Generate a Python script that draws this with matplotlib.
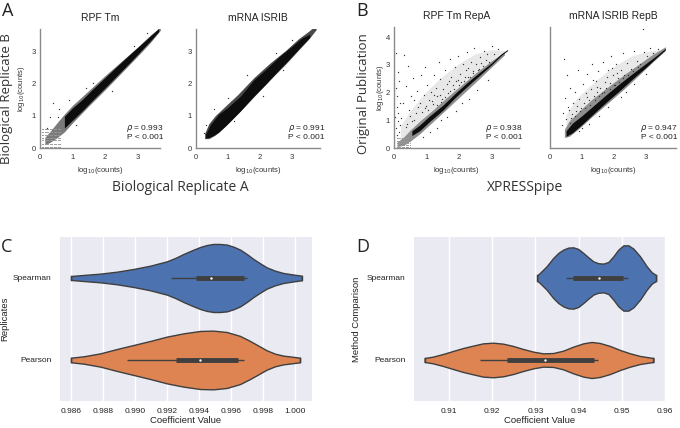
import numpy as np
import matplotlib
matplotlib.use("Agg")
import matplotlib.pyplot as plt

# ---------------- data ----------------
# scatter panels: dense diagonal band (x, lower edge, upper edge), sparse cloud and points
a1_halo_x = [0.15, 0.3, 0.5, 0.75, 1.0, 1.5, 2.0, 2.5, 3.0, 3.4, 3.7]
a1_halo_lo = [0.10, 0.17, 0.30, 0.50, 0.78, 1.30, 1.80, 2.32, 2.84, 3.27, 3.64]
a1_halo_hi = [0.33, 0.50, 0.75, 1.05, 1.32, 1.78, 2.24, 2.68, 3.12, 3.50, 3.74]
a1_core_x = [0.75, 1.0, 1.3, 1.6, 2.0, 2.4, 2.8, 3.1, 3.4, 3.65]
a1_core_lo = [0.62, 0.86, 1.15, 1.46, 1.86, 2.27, 2.68, 3.00, 3.32, 3.60]
a1_core_hi = [0.98, 1.24, 1.50, 1.80, 2.18, 2.56, 2.93, 3.20, 3.47, 3.70]
a1_pts_x = [0.4, 1.63, 0.9, 2.2, 0.3, 1.1, 2.9, 3.3, 1.4, 0.6, 0.22, 0.55]
a1_pts_y = [1.39, 2.0, 1.5, 1.75, 0.95, 0.7, 3.15, 3.55, 1.85, 1.2, 0.62, 0.95]
a1_rows = [0.03, 0.13, 0.24, 0.32, 0.40, 0.49, 0.58]
a1_cols = [0.06, 0.1, 0.14, 0.18, 0.22, 0.26, 0.3, 0.34, 0.38, 0.42, 0.46, 0.5, 0.54, 0.58, 0.62]

a2_halo_x = [0.27, 0.4, 0.6, 0.9, 1.3, 1.8, 2.3, 2.8, 3.2, 3.5, 3.75]
a2_halo_lo = [0.29, 0.29, 0.40, 0.66, 1.06, 1.58, 2.10, 2.60, 3.03, 3.35, 3.66]
a2_halo_hi = [0.45, 0.75, 1.00, 1.28, 1.65, 2.17, 2.62, 3.02, 3.38, 3.60, 3.80]
a2_core_x = [0.3, 0.45, 0.7, 1.0, 1.4, 1.8, 2.2, 2.6, 3.0, 3.3, 3.55]
a2_core_lo = [0.31, 0.34, 0.48, 0.76, 1.16, 1.60, 2.00, 2.43, 2.84, 3.17, 3.42]
a2_core_hi = [0.42, 0.72, 1.04, 1.26, 1.62, 2.10, 2.45, 2.83, 3.15, 3.40, 3.52]
a2_pts_x = [0.3, 0.55, 1.2, 2.1, 1.0, 1.6, 2.5, 3.0, 3.4, 3.6, 2.7, 0.25]
a2_pts_y = [0.7, 1.2, 0.85, 1.6, 1.55, 2.25, 2.95, 3.35, 3.7, 3.72, 2.4, 0.45]

b1_cloud_x = [0.2, 0.5, 1.0, 1.5, 2.0, 2.5, 3.0, 3.4]
b1_cloud_lo = [0.30, 0.62, 1.20, 1.70, 2.20, 2.72, 3.15, 3.45]
b1_cloud_hi = [0.80, 1.35, 2.05, 2.60, 3.05, 3.40, 3.55, 3.52]
b1_halo_x = [0.1, 0.3, 0.5, 0.8, 1.2, 1.6, 2.0, 2.5, 3.0, 3.4]
b1_halo_lo = [0.05, 0.10, 0.25, 0.52, 0.95, 1.38, 1.82, 2.36, 2.92, 3.36]
b1_halo_hi = [0.22, 0.40, 0.65, 0.98, 1.38, 1.80, 2.20, 2.70, 3.15, 3.46]
b1_core_x = [0.55, 0.8, 1.1, 1.5, 1.9, 2.3, 2.7, 3.0, 3.3, 3.5]
b1_core_lo = [0.45, 0.63, 0.96, 1.36, 1.84, 2.27, 2.69, 3.00, 3.34, 3.52]
b1_core_hi = [0.62, 0.84, 1.16, 1.54, 1.99, 2.41, 2.79, 3.07, 3.40, 3.56]
b1_pts_x = [0.07, 0.31, 0.42, 0.11, 0.15, 0.05, 0.09, 0.17, 0.08, 0.13, 0.04, 0.11, 0.18, 0.06, 0.14, 0.1,
            0.37, 0.52, 0.27, 0.47, 0.63, 0.58, 0.72, 0.83, 0.74, 0.92, 0.97, 1.03, 1.08, 1.13, 1.19, 1.22,
            1.29, 1.33, 1.38, 1.43, 1.49, 1.52, 1.58, 1.63, 1.67, 1.74, 1.77, 1.83, 1.88, 1.92, 1.98, 2.04,
            2.07, 2.13, 2.18, 2.24, 2.27, 2.33, 2.38, 2.43, 2.47, 2.53, 2.58, 2.64, 2.69, 2.77, 2.83, 2.88,
            3.02, 3.08, 3.21,
            0.61, 0.68, 0.87, 0.94, 1.06, 1.17, 1.31, 1.41, 1.56, 1.72, 1.84, 2.01, 2.16, 2.29, 2.44, 2.61,
            2.73, 2.92, 0.41, 0.49, 0.23, 0.36, 0.79, 1.24, 1.68, 2.21, 0.55, 0.99, 1.46, 1.96,
            0.88, 1.12, 1.33, 1.62, 1.91, 2.32, 2.57, 2.91, 2.08, 1.45]
b1_pts_y = [3.42, 3.35, 2.97, 2.74, 2.41, 2.15, 1.88, 1.62, 1.47, 1.27, 1.13, 0.97, 0.83, 0.72, 0.57, 0.46,
            2.23, 1.87, 1.63, 1.38, 1.73, 2.52, 2.06, 2.63, 1.47, 1.93, 2.93, 2.27, 1.72, 2.04, 1.58, 2.62,
            2.17, 1.88, 3.12, 2.48, 1.78, 2.13, 2.83, 2.31, 1.98, 3.23, 2.58, 2.28, 2.94, 2.42, 3.33, 2.67,
            2.38, 3.04, 2.57, 3.47, 2.88, 2.58, 3.12, 2.77, 3.62, 3.02, 2.83, 3.28, 3.07, 3.52, 3.18, 3.41,
            3.67, 3.38, 3.57,
            1.02, 1.27, 1.31, 1.44, 1.37, 1.68, 1.57, 1.91, 1.83, 2.07, 2.12, 2.28, 2.43, 2.58, 2.72, 2.87,
            2.96, 3.12, 0.88, 1.17, 1.08, 0.76, 1.62, 1.93, 2.42, 2.81, 0.97, 1.52, 1.66, 2.47,
            0.41, 0.57, 0.73, 1.12, 1.33, 1.77, 2.08, 2.46, 1.62, 1.02]
b1_rows = [0.04, 0.11, 0.19, 0.27, 0.35]
b1_cols = [0.08, 0.12, 0.16, 0.2, 0.24, 0.28, 0.32, 0.36, 0.4, 0.44, 0.48]

b2_cloud_x = [0.5, 0.8, 1.2, 1.6, 2.0, 2.5, 3.0, 3.4]
b2_cloud_lo = [0.68, 1.02, 1.45, 1.88, 2.26, 2.72, 3.12, 3.45]
b2_cloud_hi = [1.20, 1.75, 2.20, 2.60, 2.95, 3.30, 3.48, 3.55]
b2_halo_x = [0.45, 0.6, 0.9, 1.3, 1.8, 2.3, 2.8, 3.2, 3.6]
b2_halo_lo = [0.38, 0.42, 0.70, 1.12, 1.62, 2.12, 2.66, 3.10, 3.52]
b2_halo_hi = [0.68, 0.98, 1.32, 1.75, 2.20, 2.64, 3.05, 3.38, 3.66]
b2_core_x = [0.5, 0.7, 1.0, 1.4, 1.8, 2.2, 2.6, 3.0, 3.3, 3.6]
b2_core_lo = [0.42, 0.55, 0.85, 1.28, 1.70, 2.10, 2.52, 2.92, 3.24, 3.55]
b2_core_hi = [0.62, 0.90, 1.17, 1.57, 1.97, 2.35, 2.71, 3.06, 3.32, 3.60]
b2_pts_x = [0.44, 2.9, 0.52, 0.61, 0.46, 0.56, 0.41, 0.51, 0.63, 0.36, 0.71, 0.77, 0.82, 0.86, 0.91, 0.96,
            1.02, 1.06, 1.12, 1.17, 1.21, 1.27, 1.31, 1.36, 1.42, 1.46, 1.51, 1.57, 1.62, 1.66, 1.72, 1.76,
            1.82, 1.87, 1.91, 1.97, 2.02, 2.06, 2.12, 2.21, 2.27, 2.32, 2.41, 2.52, 2.61, 2.72, 2.81, 2.92,
            3.02, 3.11, 3.22, 3.36,
            0.66, 0.79, 0.93, 1.08, 1.24, 1.39, 1.54, 1.69, 1.86, 1.99, 2.16, 2.28, 2.44, 2.59, 2.76,
            0.58, 0.84, 1.14, 1.48, 1.79, 2.08, 0.7, 1.33, 1.94,
            0.92, 1.21, 1.52, 1.81, 2.23, 2.62, 3.01, 1.01, 2.38]
b2_pts_y = [3.21, 4.31, 2.63, 2.18, 1.82, 1.48, 1.27, 1.04, 0.91, 0.82, 1.63, 2.02, 1.33, 2.81, 1.77, 1.44,
            2.32, 1.61, 1.97, 2.66, 1.72, 2.12, 3.02, 1.88, 2.42, 2.03, 2.77, 2.18, 1.97, 3.12, 2.38, 2.17,
            2.82, 2.33, 3.31, 2.62, 2.28, 3.03, 2.53, 2.82, 3.42, 2.62, 3.08, 2.87, 3.52, 3.13, 3.02, 3.47,
            3.31, 3.62, 3.43, 3.58,
            1.07, 1.16, 1.32, 1.44, 1.57, 1.73, 1.87, 2.02, 2.13, 2.27, 2.38, 2.52, 2.63, 2.78, 2.92,
            1.38, 1.52, 1.83, 2.21, 2.57, 2.72, 1.22, 2.45, 2.88,
            0.61, 0.88, 1.17, 1.48, 1.86, 2.31, 2.68, 0.74, 2.02]

# violin outlines: coefficient value and half width (category units)
c_sp_val = [0.98600, 0.98679, 0.98783, 0.98887, 0.98991, 0.99095, 0.99199, 0.99251, 0.99303,
            0.99355, 0.99407, 0.99449, 0.99490, 0.99532, 0.99574, 0.99615, 0.99657, 0.99698,
            0.99740, 0.99782, 0.99823, 0.99875, 0.99927, 0.99979, 1.00042]
c_sp_hw = [0.024, 0.037, 0.053, 0.077, 0.110, 0.150, 0.203, 0.244, 0.293, 0.337, 0.378, 0.402,
           0.415, 0.415, 0.407, 0.382, 0.346, 0.293, 0.232, 0.179, 0.130, 0.089, 0.061, 0.045, 0.028]
c_pe_val = [0.98600, 0.98679, 0.98783, 0.98887, 0.98991, 0.99095, 0.99199, 0.99303, 0.99407,
            0.99490, 0.99574, 0.99657, 0.99719, 0.99782, 0.99823, 0.99875, 0.99927, 0.99979, 1.00031]
c_pe_hw = [0.028, 0.045, 0.081, 0.134, 0.183, 0.232, 0.285, 0.325, 0.354, 0.358, 0.341, 0.293,
           0.232, 0.163, 0.118, 0.077, 0.053, 0.041, 0.028]
d_sp_val = [0.93040, 0.93102, 0.93257, 0.93411, 0.93527, 0.93643, 0.93759, 0.93875, 0.93991,
            0.94107, 0.94223, 0.94338, 0.94454, 0.94570, 0.94686, 0.94802, 0.94918, 0.95034,
            0.95150, 0.95266, 0.95420, 0.95575, 0.95691, 0.95791]
d_sp_hw = [0.033, 0.061, 0.142, 0.244, 0.305, 0.346, 0.370, 0.374, 0.354, 0.305, 0.252, 0.203,
           0.180, 0.175, 0.195, 0.264, 0.346, 0.398, 0.398, 0.358, 0.264, 0.142, 0.069, 0.035]
d_pe_val = [0.90436, 0.90629, 0.90861, 0.91093, 0.91325, 0.91556, 0.91788, 0.92020, 0.92252,
            0.92484, 0.92716, 0.92947, 0.93179, 0.93411, 0.93643, 0.93875, 0.94107, 0.94300,
            0.94493, 0.94725, 0.94957, 0.95189, 0.95420, 0.95614, 0.95730]
d_pe_hw = [0.024, 0.041, 0.073, 0.110, 0.146, 0.175, 0.203, 0.211, 0.199, 0.171, 0.134, 0.102,
           0.081, 0.085, 0.114, 0.163, 0.203, 0.220, 0.207, 0.171, 0.122, 0.081, 0.049, 0.033, 0.024]

# box stats: whisker low, q1, median, q3, whisker high
c_sp_box = [0.99226, 0.99382, 0.99474, 0.99678, 0.99698]
c_pe_box = [0.98949, 0.99257, 0.99403, 0.99644, 0.99682]
d_sp_box = [0.93705, 0.93859, 0.94478, 0.95034, 0.95134]
d_pe_box = [0.91726, 0.92345, 0.93218, 0.94354, 0.94439]

categories = ["Spearman", "Pearson"]
c_ticks = [0.986, 0.988, 0.990, 0.992, 0.994, 0.996, 0.998, 1.000]
d_ticks = [0.91, 0.92, 0.93, 0.94, 0.95, 0.96]

SANS = ["Liberation Sans", "DejaVu Sans"]
BIG = ["Open Sans", "DejaVu Sans"]
plt.rcParams["font.family"] = SANS

fig = plt.figure(figsize=(6.8, 4.28), dpi=100)


def scatter_panel(rect, band, pts, title, xlim, ylim, yticks, stat, statx, ylabel,
                  halo_color, cloud=None, grid=None):
    ax = fig.add_axes(rect)
    if cloud is not None:
        ax.fill_between(cloud[0], cloud[1], cloud[2], color="#e8e8e8", lw=0)
    ax.fill_between(band[0], band[1], band[2], color=halo_color, lw=0)
    ax.fill_between(band[3], band[4], band[5], color="#0d0d0d", lw=0)
    if grid is not None:
        gx, gy = np.meshgrid(grid[1], grid[0])
        ax.scatter(gx.ravel(), gy.ravel(), s=0.5, color="#999999", lw=0)
    ax.scatter(pts[0], pts[1], s=0.9, color="#333333", lw=0)
    ax.set_xlim(*xlim)
    ax.set_ylim(*ylim)
    ax.set_xticks([0, 1, 2, 3])
    ax.set_yticks(yticks)
    ax.tick_params(length=0, labelsize=5.5, pad=4, colors="#333333")
    ax.tick_params(axis="y", pad=3)
    for s in ("top", "right"):
        ax.spines[s].set_visible(False)
    for s in ("left", "bottom"):
        ax.spines[s].set_color("#8a8a8a")
        ax.spines[s].set_linewidth(1.0)
    ax.set_title(title, fontsize=7.5, pad=6, color="#222222")
    ax.set_xlabel("log$_{10}$(counts)", fontsize=5.5, labelpad=3, color="#333333")
    if ylabel is not None:
        ax.set_ylabel("log$_{10}$(counts)", fontsize=5.5, color="#333333")
        ax.yaxis.set_label_coords(ylabel, 0.5)
    ax.text(statx, 0.06, r"$\rho$ = %s" % stat + "\nP < 0.001", transform=ax.transAxes,
            ha="right", va="bottom", fontsize=6, linespacing=1.0, color="#222222")
    return ax


scatter_panel([0.0588, 0.6542, 0.1765, 0.278],
              (a1_halo_x, a1_halo_lo, a1_halo_hi, a1_core_x, a1_core_lo, a1_core_hi),
              (a1_pts_x, a1_pts_y), "RPF Tm", (0, 3.69), (0, 3.68), [0, 1, 2, 3],
              "0.993", 1.03, -0.105, "#7a7a7a", grid=(a1_rows, a1_cols))
scatter_panel([0.2882, 0.6542, 0.1824, 0.278],
              (a2_halo_x, a2_halo_lo, a2_halo_hi, a2_core_x, a2_core_lo, a2_core_hi),
              (a2_pts_x, a2_pts_y), "mRNA ISRIB", (0, 3.87), (0, 3.68), [0, 1, 2, 3],
              "0.991", 1.04, None, "#4a4a4a")
scatter_panel([0.5794, 0.6542, 0.1838, 0.2827],
              (b1_halo_x, b1_halo_lo, b1_halo_hi, b1_core_x, b1_core_lo, b1_core_hi),
              (b1_pts_x, b1_pts_y), "RPF Tm RepA", (0, 3.85), (0, 4.37), [0, 1, 2, 3, 4],
              "0.938", 1.03, -0.064, "#8f8f8f", cloud=(b1_cloud_x, b1_cloud_lo, b1_cloud_hi),
              grid=(b1_rows, b1_cols))
scatter_panel([0.8088, 0.6542, 0.1853, 0.2827],
              (b2_halo_x, b2_halo_lo, b2_halo_hi, b2_core_x, b2_core_lo, b2_core_hi),
              (b2_pts_x, b2_pts_y), "mRNA ISRIB RepB", (0, 3.93), (0, 4.37), [],
              "0.947", 1.01, None, "#8f8f8f", cloud=(b2_cloud_x, b2_cloud_lo, b2_cloud_hi))


def violin_panel(rect, profiles, boxes, xlim, ticks, ylabel):
    ax = fig.add_axes(rect)
    ax.set_facecolor("#EAEAF2")
    for s in ax.spines.values():
        s.set_visible(False)
    ax.set_axisbelow(True)
    ax.grid(axis="x", color="white", lw=1.0)
    colors = ["#4C72B0", "#DD8452"]
    for i, ((val, hw), box) in enumerate(zip(profiles, boxes)):
        val = np.asarray(val)
        hw = np.asarray(hw)
        ax.fill_between(val, i - hw, i + hw, facecolor=colors[i], edgecolor="#3f3f3f", lw=1.0)
        ax.plot([val[0], val[0]], [i - hw[0], i + hw[0]], color="#3f3f3f", lw=1.0)
        ax.plot([val[-1], val[-1]], [i - hw[-1], i + hw[-1]], color="#3f3f3f", lw=1.0)
        ax.plot([box[0], box[4]], [i, i], color="#3f3f3f", lw=1.0, solid_capstyle="butt")
        ax.plot([box[1], box[3]], [i, i], color="#3f3f3f", lw=3.5, solid_capstyle="butt")
        ax.scatter([box[2]], [i], s=3, color="white", zorder=5, lw=0)
    ax.set_xlim(*xlim)
    ax.set_ylim(1.5, -0.5)
    ax.set_xticks(ticks)
    ax.set_xticklabels(["%.3f" % t if len(ticks) > 6 else "%.2f" % t for t in ticks])
    ax.set_yticks([0, 1])
    ax.set_yticklabels(categories)
    ax.tick_params(length=0, labelsize=6, colors="#222222")
    ax.tick_params(axis="x", pad=5)
    ax.tick_params(axis="y", pad=6)
    ax.set_xlabel("Coefficient Value", fontsize=6.8, labelpad=1, color="#222222")
    ax.set_ylabel(ylabel, fontsize=6.8, color="#222222")
    return ax


axc = violin_panel([0.0882, 0.0631, 0.3706, 0.3832], [(c_sp_val, c_sp_hw), (c_pe_val, c_pe_hw)],
                   [c_sp_box, c_pe_box], (0.98531, 1.00106), c_ticks, "Replicates")
axc.yaxis.set_label_coords(-0.2, 0.5)
axd = violin_panel([0.6088, 0.0631, 0.3706, 0.3832], [(d_sp_val, d_sp_hw), (d_pe_val, d_pe_hw)],
                   [d_sp_box, d_pe_box], (0.9019, 0.9602), d_ticks, "Method Comparison")
axd.yaxis.set_label_coords(-0.21, 0.5)

# shared labels and panel letters
fig.text(180 / 680, 1 - 188 / 428, "Biological Replicate A", fontsize=10, family=BIG,
         ha="center", va="center", color="#333333")
fig.text(6.5 / 680, 1 - 99 / 428, "Biological Replicate B", fontsize=9.5, family=BIG,
         ha="center", va="center", rotation=90, color="#333333")
fig.text(525 / 680, 1 - 188 / 428, "XPRESSpipe", fontsize=10, family=BIG,
         ha="center", va="center", color="#333333")
fig.text(364 / 680, 1 - 94 / 428, "Original Publication", fontsize=9.5, family=BIG,
         ha="center", va="center", rotation=90, color="#333333")
for letter, x, y in [("A", 2, 11), ("B", 356, 11), ("C", 1, 247), ("D", 356, 247)]:
    fig.text(x / 680, 1 - y / 428, letter, fontsize=13, family=BIG, ha="left", va="center",
             color="#222222")

fig.savefig("out.png", dpi=100)
